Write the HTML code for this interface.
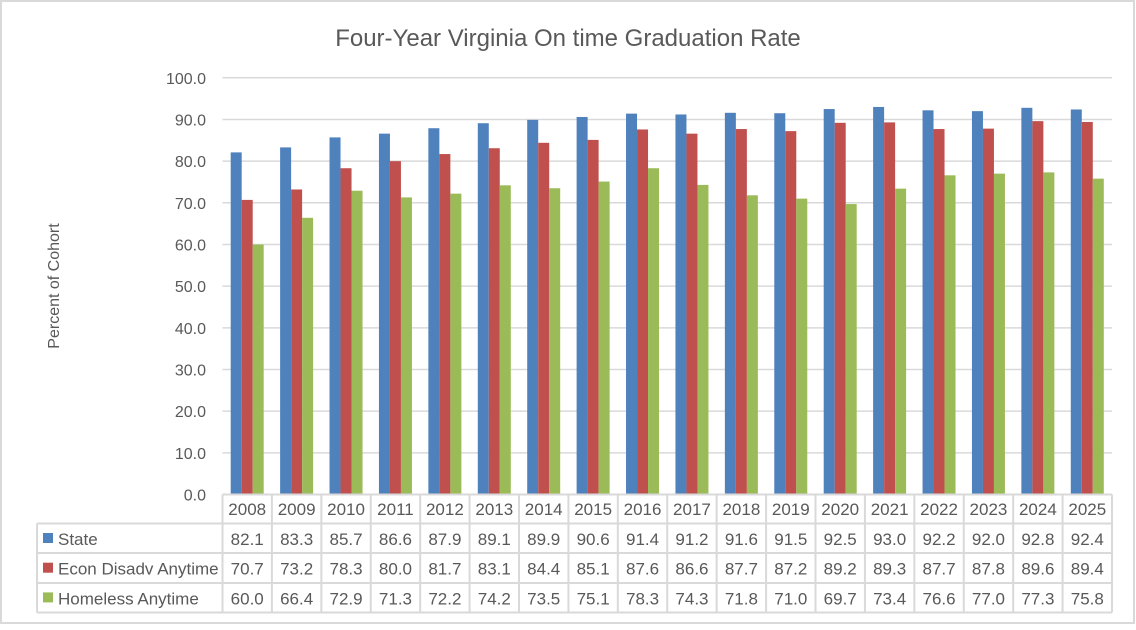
<!DOCTYPE html>
<html><head><meta charset="utf-8"><style>
body{margin:0;background:#fff}
svg text{font-family:"Liberation Sans",sans-serif;fill:#595959}
</style></head><body>
<svg width="1136" height="625" xmlns="http://www.w3.org/2000/svg">
<rect x="1" y="1" width="1133" height="622" fill="#fff" stroke="#d9d9d9" stroke-width="2"/>
<text x="568" y="46" font-size="24" text-anchor="middle">Four-Year Virginia On time Graduation Rate</text>
<text transform="translate(59,286) rotate(-90)" font-size="16" text-anchor="middle">Percent of Cohort</text>
</svg>
<script>
const s=document.querySelector('svg'),ns='http://www.w3.org/2000/svg';
function el(t,a,txt){const e=document.createElementNS(ns,t);for(const k in a)e.setAttribute(k,a[k]);if(txt!=null)e.textContent=txt;s.appendChild(e);return e;}
const L=222.5,R=1112,y0=494.5,k=4.167,W=(R-L)/18;
const yrs=[];for(let y=2008;y<=2025;y++)yrs.push(y);
const d=[[82.1,83.3,85.7,86.6,87.9,89.1,89.9,90.6,91.4,91.2,91.6,91.5,92.5,93.0,92.2,92.0,92.8,92.4],
[70.7,73.2,78.3,80.0,81.7,83.1,84.4,85.1,87.6,86.6,87.7,87.2,89.2,89.3,87.7,87.8,89.6,89.4],
[60.0,66.4,72.9,71.3,72.2,74.2,73.5,75.1,78.3,74.3,71.8,71.0,69.7,73.4,76.6,77.0,77.3,75.8]];
const col=['#4F81BD','#C0504D','#9BBB59'],names=['State','Econ Disadv Anytime','Homeless Anytime'];
for(let i=1;i<=10;i++){const y=y0-i*10*k;el('line',{x1:L,x2:R,y1:y,y2:y,stroke:'#d9d9d9','stroke-width':1.5});}
for(let i=0;i<=10;i++){el('text',{x:206,y:y0-i*10*k+6,'font-size':16,'text-anchor':'end'},(i*10).toFixed(1));}
for(let j=0;j<18;j++)for(let s2=0;s2<3;s2++){const x=L+j*W+8.2+s2*11,h=d[s2][j]*k;el('rect',{x:x,y:y0-h,width:11,height:h,fill:col[s2]});}
const g='#d9d9d9',sw=2;
const rows=[494.5,523.5,553,583,612.5];
el('line',{x1:L,x2:R,y1:rows[0],y2:rows[0],stroke:g,'stroke-width':sw});
for(let r=1;r<5;r++)el('line',{x1:37,x2:R,y1:rows[r],y2:rows[r],stroke:g,'stroke-width':sw});
el('line',{x1:37,x2:37,y1:rows[1],y2:rows[4],stroke:g,'stroke-width':sw});
for(let j=0;j<=18;j++){const x=L+j*W;el('line',{x1:x,x2:x,y1:rows[0],y2:rows[4],stroke:g,'stroke-width':sw});}
for(let j=0;j<18;j++){const cx=L+j*W+W/2;el('text',{x:cx,y:515,'font-size':17,'text-anchor':'middle'},yrs[j]);
for(let r=0;r<3;r++)el('text',{x:cx,y:545+r*29.7,'font-size':17,'text-anchor':'middle'},d[r][j].toFixed(1));}
for(let r=0;r<3;r++){el('rect',{x:43,y:533+r*29.7,width:10,height:10,fill:col[r]});el('text',{x:58,y:545+r*29.7,'font-size':17},names[r]);}
</script>
</body></html>
